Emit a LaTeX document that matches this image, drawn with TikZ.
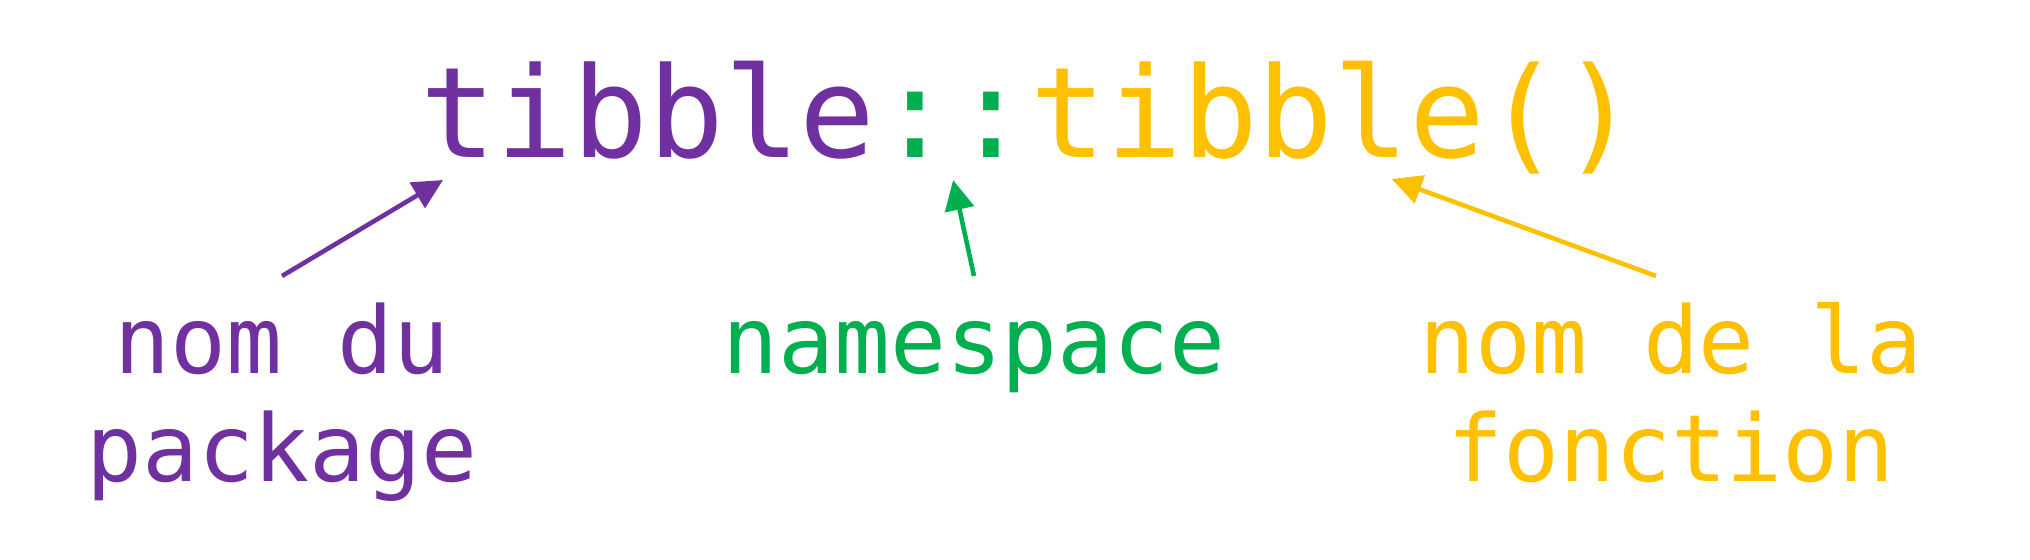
\documentclass[tikz,border=0pt]{standalone}
\usepackage{fontspec}
\usetikzlibrary{arrows.meta}
\newfontfamily\monofam{DejaVu Sans Mono}
\newcommand\codesize{\monofam\fontsize{35.85pt}{43pt}\selectfont}
\newcommand\labsize{\monofam\fontsize{26.46pt}{30.7pt}\selectfont}
\definecolor{pkgcol}{HTML}{7030A0}
\definecolor{nscol}{HTML}{00B050}
\definecolor{funcol}{HTML}{FFC000}
\begin{document}
\begin{tikzpicture}[>={Triangle[length=3mm,width=2.9mm]},
 code/.style={font=\codesize,inner sep=0pt,anchor=base west},
 lab/.style={font=\labsize,align=center,anchor=north,inner xsep=0pt,inner ysep=2.1mm},
 pointer/.style={line width=1.3pt,->}]
\useasboundingbox (0,0) rectangle (20.3,5.59);
\node[code,text=pkgcol] (pkg) at (4.2,4.02) {tibble};
\node[code,text=nscol] (sep) at (pkg.base east) {::};
\node[code,text=funcol] (fun) at (sep.base east) {tibble()};
\coordinate (pkgtip) at ([xshift=2.3mm,yshift=-2.3mm]pkg.base west);
\coordinate (septip) at ([yshift=-2.3mm]sep.base);
\coordinate (funtip) at ([xshift=36.2mm,yshift=-2.2mm]fun.base west);
\node[lab,text=pkgcol] (pkglab) at (2.82,2.83) {\strut nom du\\package};
\node[lab,text=nscol] (nslab) at (9.74,2.83) {\strut namespace};
\node[lab,text=funcol] (funlab) at (16.71,2.83) {\strut nom de la\\fonction};
\draw[pointer,pkgcol] (pkglab.north) -- (pkgtip);
\draw[pointer,nscol] (nslab.north) -- (septip);
\draw[pointer,funcol] ([xshift=-1.5mm]funlab.north) -- (funtip);
\end{tikzpicture}
\end{document}
